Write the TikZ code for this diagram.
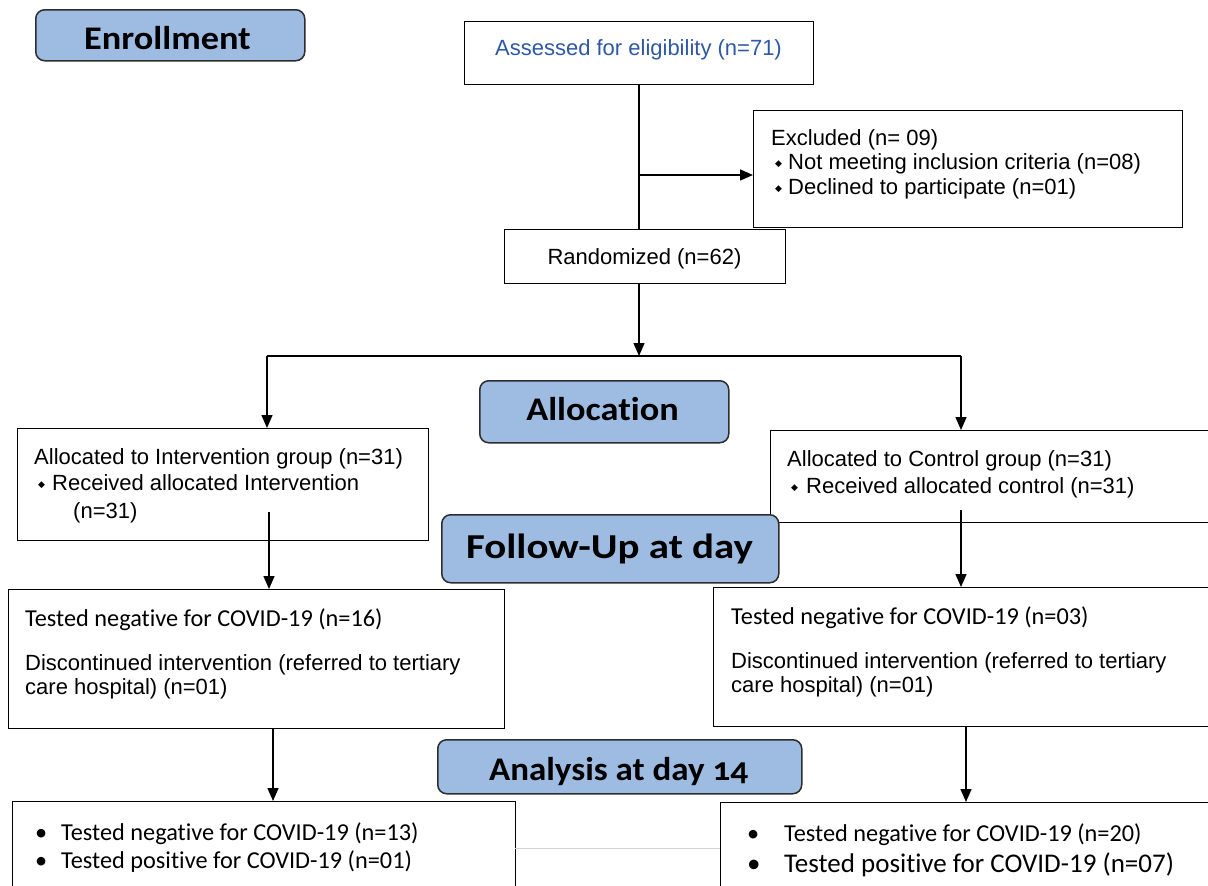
\documentclass[tikz,border=0pt]{standalone}
\usepackage{fontspec}
\usepackage{graphicx}
\setmainfont{Liberation Sans}
\newfontfamily\calfont{Carlito}[Ligatures=CommonOff]
\newfontfamily\calfontosf{Carlito}[Numbers=OldStyle,Ligatures=CommonOff]
\newfontfamily\djvfont{DejaVu Sans}
\usetikzlibrary{arrows.meta}
\definecolor{headblue}{RGB}{158,188,226}
\definecolor{headline}{RGB}{45,45,45}
\definecolor{assessblue}{RGB}{46,89,165}
\newcommand{\dmdbul}[1]{\makebox[#1][l]{\raisebox{3pt}{\djvfont\fontsize{9}{9}\selectfont ◆}}}
\newcommand{\rndbul}[1]{\makebox[#1][l]{•}}
\newcommand{\hstretch}[2]{\scalebox{#1}[1]{#2}}
\begin{document}
\begin{tikzpicture}[x=1pt,y=-1pt,
  box/.style={draw=black, line width=1.3pt, fill=white, inner sep=0pt, anchor=north west},
  head/.style={draw=headline, line width=1.5pt, fill=headblue, rounded corners=9pt, inner sep=0pt, anchor=north west},
  headtxt/.style={inner sep=0pt, anchor=base, font=\calfont\bfseries\fontsize{33}{33}\selectfont},
  txt/.style={inner sep=0pt, anchor=base west, font=\fontsize{22}{26}\selectfont},
  ctxt/.style={inner sep=0pt, anchor=base west, font=\calfont\fontsize{24.3}{28}\selectfont},
  ln/.style={line width=1.4pt},
  arr/.style={line width=1.4pt, -{Triangle[length=13pt,width=11pt]}}]
\clip (0,0) rectangle (1208,886);
\fill[white] (0,0) rectangle (1208,886);

% ---------- boxes ----------
\node[head, minimum width=269pt, minimum height=51pt] (enr) at (35,9) {};
\node[headtxt] (enrt) at (167.5,49) {\hstretch{1.1}{Enrollment}};

\node[box, minimum width=349pt, minimum height=63pt] (assess) at (464,21) {};
\node[txt, anchor=base, text=assessblue] (assesst) at (638.5,55) {Assessed for eligibility (n=71)};

\node[box, minimum width=429pt, minimum height=117pt] (excl) at (753,110) {};
\node[txt] (ex1) at (771,145) {Excluded (n= 09)};
\node[txt] (ex2) at (775,169) {\dmdbul{13pt}Not meeting inclusion criteria (n=08)};
\node[txt] (ex3) at (775,194) {\dmdbul{13pt}Declined to participate (n=01)};

\node[box, minimum width=281pt, minimum height=54pt] (rand) at (504,229) {};
\node[txt, anchor=base] (randt) at (644.5,264) {Randomized (n=62)};

\node[head, minimum width=249pt, minimum height=62pt] (alloc) at (479,380) {};
\node[headtxt] (alloct) at (602.5,420.5) {\hstretch{1.1}{Allocation}};

\node[box, minimum width=411pt, minimum height=112pt] (int) at (17,428) {};
\node[txt] (in1) at (34,464) {Allocated to Intervention group (n=31)};
\node[txt] (in2) at (38,490) {\dmdbul{14pt}Received allocated Intervention};
\node[txt] (in3) at (73,518) {(n=31)};

\node[box, minimum width=460pt, minimum height=92pt] (ctl) at (770,430) {};
\node[txt] (ct1) at (787,466) {Allocated to Control group (n=31)};
\node[txt] (ct2) at (791,493) {\dmdbul{15pt}Received allocated control (n=31)};

\node[head, minimum width=337pt, minimum height=68pt] (fup) at (441,514) {};
\node[headtxt, font=\calfont\bfseries\fontsize{35}{35}\selectfont] (fupt) at (609.5,558.3) {\hstretch{1.17}{Follow-Up at day}};

\node[box, minimum width=496pt, minimum height=139pt] (fl) at (8,589) {};
\node[ctxt] (fl1) at (25,626) {Tested negative for COVID-19 (n=16)};
\node[txt] (fl2) at (25,670) {Discontinued intervention (referred to tertiary};
\node[txt] (fl3) at (25,694) {care hospital) (n=01)};

\node[box, minimum width=510pt, minimum height=139pt] (fr) at (713,587) {};
\node[ctxt] (fr1) at (731,624) {Tested negative for COVID-19 (n=03)};
\node[txt] (fr2) at (731,668) {Discontinued intervention (referred to tertiary};
\node[txt] (fr3) at (731,692) {care hospital) (n=01)};

\node[head, minimum width=364pt, minimum height=54pt] (ana) at (437,739) {};
\node[headtxt] (anat) at (618.5,780) {\hstretch{1.06}{Analysis at day {\calfontosf\bfseries 14}}};

\node[box, minimum width=503pt, minimum height=110pt] (bl) at (12,801) {};
\node[ctxt] (bl1) at (35,840) {\rndbul{26pt}Tested negative for COVID-19 (n=13)};
\node[ctxt] (bl2) at (35,868) {\rndbul{26pt}Tested positive for COVID-19 (n=01)};

\node[box, minimum width=510pt, minimum height=110pt] (br) at (720,802) {};
\node[ctxt] (br1) at (747,841) {\rndbul{37pt}Tested negative for COVID-19 (n=20)};
\node[ctxt, font=\calfont\fontsize{27}{31}\selectfont] (br2) at (747,872) {\rndbul{37pt}Tested positive for COVID-19 (n=07)};

% ---------- connectors ----------
\coordinate (vtop) at (639,84);
\coordinate (brx) at (639,175);
\coordinate (split) at (639,356);
\coordinate (hl) at (267,356);
\coordinate (hr) at (961,356);
\coordinate (ia) at (269,512);
\coordinate (ca) at (961,510);
\coordinate (la) at (273,728);
\coordinate (ra) at (966,726);
\coordinate (gl) at (515,848);
\coordinate (gr) at (720,848);

\draw[ln] (vtop) -- (vtop |- rand.north);
\draw[arr] (brx) -- (brx -| excl.west);
\draw[arr] (split |- rand.south) -- (split);
\draw[ln] (hl) -- (hr);
\draw[arr] (hl) -- (hl |- int.north);
\draw[arr] (hr) -- (hr |- ctl.north);
\draw[arr] (ia) -- (ia |- fl.north);
\draw[arr] (ca) -- (ca |- fr.north);
\draw[arr] (la) -- (la |- bl.north);
\draw[arr] (ra) -- (ra |- br.north);
\draw[gray!35, line width=0.6pt] (gl) -- (gr);
\end{tikzpicture}
\end{document}
